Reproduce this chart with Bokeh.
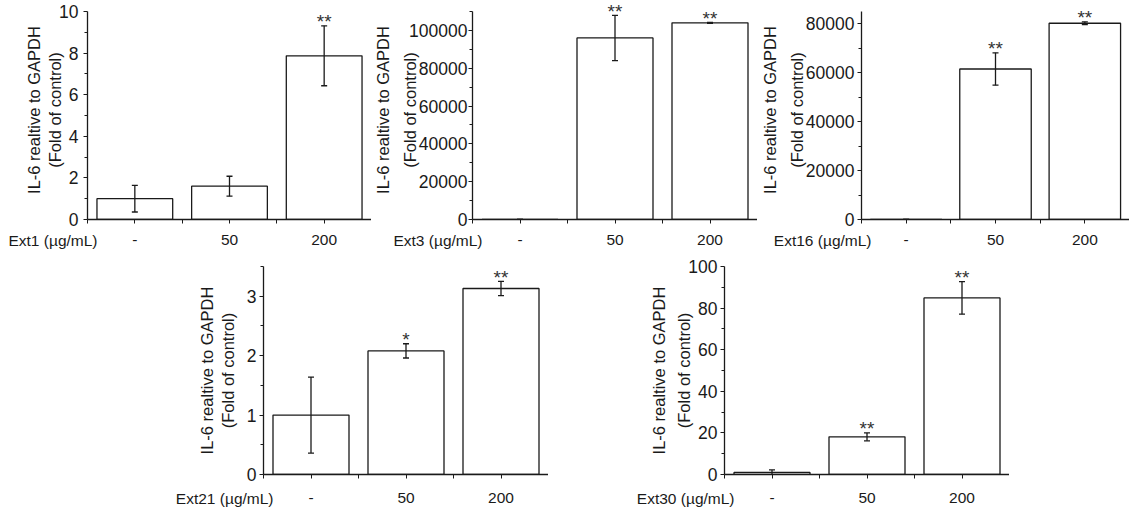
import numpy as np
from bokeh.plotting import figure
from bokeh.models import (Range1d, FixedTicker, Whisker, ColumnDataSource, Label,
                          Spacer, TeeHead, NumeralTickFormatter, LinearAxis)
from bokeh.layouts import row, column
from bokeh.embed import file_html
from bokeh.resources import INLINE
from bokeh.core.properties import value

# ---------------- data ----------------
doses = ["-", "50", "200"]
ylabel = "IL-6 realtive to GAPDH\n(Fold of control)"

ext1_values = [1.0, 1.60, 7.87]
ext1_errors = [0.64, 0.48, 1.44]
ext1_stars = ["", "", "**"]

ext3_values = [1.0, 96000, 104000]
ext3_errors = [0.6, 12000, 300]
ext3_stars = ["", "**", "**"]

ext16_values = [1.0, 61500, 80200]
ext16_errors = [0.5, 6600, 600]
ext16_stars = ["", "**", "**"]

ext21_values = [1.0, 2.08, 3.13]
ext21_errors = [0.64, 0.12, 0.12]
ext21_stars = ["", "*", "**"]

ext30_values = [1.0, 18.1, 84.9]
ext30_errors = [1.2, 1.9, 7.8]
ext30_stars = ["", "**", "**"]

FONT = "Liberation Sans"
INK = "#1a1a1a"
LABEL_BAND = 18.5   # estimated height of the side panel holding the dose-unit label


def make_panel(ext_name, vals, errs, stars, y_top, major_step, frame_w, frame_h, top_gap,
               left, right, top, bottom, ylab_lh, ylab_standoff, ystandoff, label_drop):
    xs = list(range(len(doses)))
    lower = [v - e for v, e in zip(vals, errs)]
    upper = [v + e for v, e in zip(vals, errs)]
    src = ColumnDataSource(dict(x=xs, top=vals, lower=lower, upper=upper))
    star_src = ColumnDataSource(dict(
        x=[x for x, s in zip(xs, stars) if s],
        y=[u for u, s in zip(upper, stars) if s],
        star=[s for s in stars if s]))
    y_end = y_top * frame_h / (frame_h - top_gap)
    p = figure(frame_width=frame_w, frame_height=frame_h,
               x_range=Range1d(-0.5, len(doses) - 0.5), y_range=Range1d(0, y_end),
               output_backend="svg", toolbar_location=None,
               min_border_left=left, min_border_right=right, min_border_top=top,
               min_border_bottom=bottom, outline_line_color=None,
               background_fill_color="white", border_fill_color="white")
    p.grid.visible = False

    p.vbar(x="x", top="top", bottom=0, width=0.8, source=src,
           fill_color="white", line_color=INK, line_width=1.3)
    w = Whisker(base="x", lower="lower", upper="upper", source=src, dimension="height",
                level="annotation", line_color=INK, line_width=1.3,
                upper_head=TeeHead(size=6, line_color=INK, line_width=1.3),
                lower_head=TeeHead(size=6, line_color=INK, line_width=1.3))
    p.add_layout(w)
    p.text(x="x", y="y", text="star", source=star_src, text_align="center",
           text_baseline="alphabetic", y_offset=-4, text_font=value(FONT),
           text_font_size="19px", text_color="#333333")

    # x axis: line and tick marks only (all marks as minor ticks, so no label texts)
    xa = p.xaxis[0]
    tick_marks = sorted(set([float(x) for x in xs] + [i - 0.5 for i in range(len(doses) + 1)]))
    xa.ticker = FixedTicker(ticks=[], minor_ticks=tick_marks)
    xa.major_label_standoff = 0
    xa.axis_line_color = INK
    xa.axis_line_width = 1.3
    xa.major_tick_line_color = INK
    xa.minor_tick_line_color = INK
    xa.major_tick_in = 0
    xa.major_tick_out = 4
    xa.minor_tick_in = 0
    xa.minor_tick_out = 4

    # dose-unit label, in its own band below the axis line
    p.add_layout(Label(x=10, y=4 + LABEL_BAND - label_drop, x_units="screen",
                       y_units="screen", text=f"{ext_name} (\u00b5g/mL)",
                       text_align="right", text_baseline="middle", text_font=FONT,
                       text_font_size="15.5px", text_color=INK), "below")

    # dose tick labels, pulled back up into the same row as the unit label
    dose_axis = LinearAxis(ticker=FixedTicker(ticks=xs, minor_ticks=[]),
                           major_label_overrides={i: d for i, d in enumerate(doses)},
                           axis_line_color=None, major_tick_line_color=None,
                           minor_tick_line_color=None, major_tick_in=0, major_tick_out=0,
                           minor_tick_in=0, minor_tick_out=0,
                           major_label_standoff=int(round(label_drop - 5.5 - 4 - LABEL_BAND)),
                           major_label_text_font=FONT, major_label_text_font_size="15.5px",
                           major_label_text_color=INK)
    p.add_layout(dose_axis, "below")

    # y axis
    ya = p.yaxis[0]
    majors = [float(t) for t in np.arange(0, y_top + major_step / 4, major_step)]
    minors = [float(t) for t in np.arange(major_step / 2, y_top + major_step / 4, major_step)]
    ya.ticker = FixedTicker(ticks=majors, minor_ticks=minors)
    ya.formatter = NumeralTickFormatter(format="0")
    ya.bounds = (0, y_top)
    ya.major_label_text_font = FONT
    ya.major_label_text_font_size = "17.5px"
    ya.major_label_text_color = INK
    ya.major_label_standoff = ystandoff
    ya.axis_line_color = INK
    ya.axis_line_width = 1.3
    ya.major_tick_line_color = INK
    ya.minor_tick_line_color = INK
    ya.major_tick_in = 0
    ya.major_tick_out = 4
    ya.minor_tick_in = 0
    ya.minor_tick_out = 3
    ya.axis_label = ylabel
    ya.axis_label_text_font = FONT
    ya.axis_label_text_font_size = "16.5px"
    ya.axis_label_text_font_style = "normal"
    ya.axis_label_text_color = INK
    ya.axis_label_text_line_height = ylab_lh
    ya.axis_label_standoff = ylab_standoff
    return p


TOP_H, TOP_GAP, TOP_B = 219, 11, 34
BOT_H, BOT_GAP, BOT_T, BOT_B = 208, 0, 13, 36

p1 = make_panel("Ext1", ext1_values, ext1_errors, ext1_stars, 10, 2,
                284, TOP_H, TOP_GAP, 87, 0, 0, TOP_B, 1.15, -8, 5, 22)
p2 = make_panel("Ext3", ext3_values, ext3_errors, ext3_stars, 110000, 20000,
                285, TOP_H, TOP_GAP, 101, 0, 0, TOP_B, 1.5, -13, 1, 22)
p3 = make_panel("Ext16", ext16_values, ext16_errors, ext16_stars, 85000, 20000,
                268, TOP_H, TOP_GAP, 103, 0, 0, TOP_B, 1.5, -3, 3, 22)
p4 = make_panel("Ext21", ext21_values, ext21_errors, ext21_stars, 3.5, 1,
                285, BOT_H, BOT_GAP, 90, 0, BOT_T, BOT_B, 1.15, 7, 3, 25)
p5 = make_panel("Ext30", ext30_values, ext30_errors, ext30_stars, 100, 20,
                285, BOT_H, BOT_GAP, 176, 0, BOT_T, BOT_B, 1.4, -8, 3, 25)

layout = column(row(p1, p2, p3), row(Spacer(width=173, height=10), p4, p5))

open("out.html", "w").write(file_html(layout, INLINE))
